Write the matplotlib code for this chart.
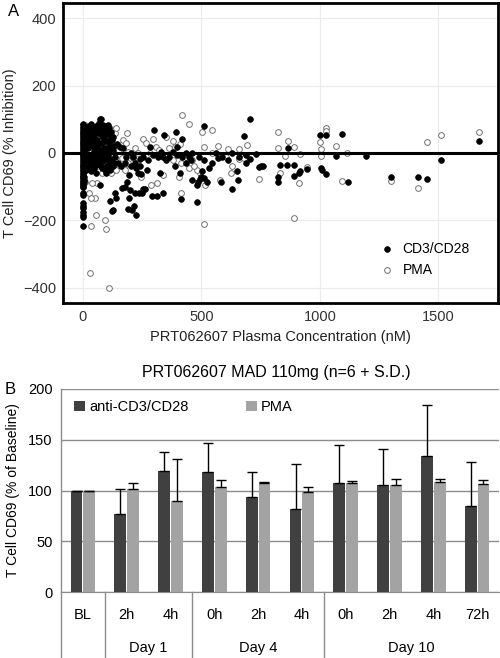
import matplotlib
matplotlib.use("Agg")
from matplotlib import pyplot as plt
import numpy as np

plt.rcParams['font.family'] = ['Liberation Sans', 'DejaVu Sans']

# ---------------- panel A data ----------------
# CD3/CD28 stimulated (filled)
cd3_x = [0]*32 + [6]*12 + [3]*6 + [0]*9 + [
    15, 20, 25, 30, 35, 40, 45, 50, 55, 60, 65, 70, 72, 80, 85, 90, 95, 100, 105, 110, 115, 120, 124, 130,
    15, 20, 25, 30, 40, 45, 50, 55, 60, 65, 75, 80, 90, 100, 110, 120, 128,
    15, 20, 25, 30, 35, 40, 45, 50, 55, 60, 65, 67, 75, 80, 85, 93, 96, 100, 105, 110, 115, 120, 125, 130,
    10, 12, 18, 22, 28, 33, 38, 48, 52, 58, 62, 68, 78, 88, 98, 108, 118,
    10, 14, 24, 34, 44, 54, 64, 74, 84, 94, 104,
    72, 97, 134, 113, 122, 128, 141, 76, 104, 66, 107, 128, 145,
    166, 177, 184, 198, 195, 190, 193, 207, 215, 226, 219, 235, 248, 255, 263, 241, 226, 231, 243, 271,
    290, 311, 301, 336, 283, 325, 343, 339, 391, 395, 388, 409, 420, 412, 420, 435, 458, 462, 480, 484,
    494, 498, 480, 509, 502, 512, 522, 533, 571, 582, 613, 627, 651, 653, 681, 688,
    155, 169, 183, 204, 211, 134, 148, 162, 176, 204, 218, 239, 253, 274, 295, 316, 330, 351, 365, 379,
    399, 434, 448, 462, 490, 511, 546, 560, 588, 630, 658, 689,
    705, 705, 730, 744, 751, 758, 824, 824, 831, 859, 866, 891, 891, 913, 915, 947, 1000, 1004, 1007,
    1025, 1025, 1067, 1095, 1119, 1193, 1300, 1412, 1450, 1509, 1670]
cd3_y = [85, 78, 72, 66, 60, 54, 48, 42, 36, 30, 24, 18, 12, 6, 0, -6, -12, -18, -24, -30,
         -36, -42, -48, -54, -60, -66, -72, -78, -84, -90, -96, -100] + \
        [80, 65, 50, 35, 20, 5, -10, -25, -40, -55, -70, -85] + \
        [70, 40, 10, -20, -50, -80] + \
        [-118, -125, -150, -158, -165, -175, -185, -190, -218] + [
    75, 60, 80, 70, 85, 55, 70, 65, 80, 40, 75, 100, 60, 50, 84, 70, 35, 80, 60, 74, 45, 55, 40, 20,
    30, 15, 40, 25, 20, 5, 30, 10, 15, 25, 10, 30, 15, 5, 20, 10, 5,
    -10, -25, -40, -15, -30, -8, -45, -20, -35, -10, -30, -12, -20, -45, -25, -51, -60, -15, -35, -25, -50, -20, -40, -30,
    50, 25, 65, 45, 55, 35, 62, 48, 72, 28, 58, 88, 66, 42, 57, 30, 62,
    -20, -50, -5, -55, -15, -60, -5, -35, -10, -42, -8,
    -95, -50, -119, -144, -173, -168, -134, 100, 83, 83, 60, 48, 27,
    -104, -100, -85, -109, -65, -166, -134, -170, -159, -183, -119, -119, -119, -107, -107, -38, -45, -60, -63, -50,
    -129, -129, 68, -119, 19, -60, 53, -11, 63, 19, -40, -60, -11, -136, 41, -1, -21, -80, -95, -87,
    -77, -70, -147, 80, -55, -75, -85, -45, -16, -85, -21, -107, -55, -80, 50, -31,
    19, 14, -11, -1, -11, -11, -31, -40, -31, -40, -31, -19, -11, -21, -6, -11, 4, -21, -11, 4,
    -6, -31, -11, -1, -11, -21, -31, -1, -11, -1, -11, -6,
    100, -19, -3, -42, -40, -38, -70, -85, -37, -35, 14, -37, -68, -58, -53, -48, 53, -45, -50,
    55, -62, -9, 56, -85, -8, -70, -70, -77, -21, 35]

# PMA stimulated (open)
pma_x = [0]*8 + [
    10, 25, 40, 55, 60, 75, 85, 100, 110, 120, 135, 141, 186,
    20, 35, 50, 65, 80, 95, 105, 115, 125, 140, 150, 160, 170, 180,
    20, 35, 45, 60, 70, 90, 100, 115, 135, 150, 165, 175, 190,
    58, 27, 53, 55, 95, 96, 36, 32, 111, 130, 120, 80, 8, 40, 33,
    253, 267, 295, 309, 351, 381, 388, 411, 419, 447, 501, 544, 571, 613, 658, 658,
    624, 578, 517, 494, 480, 448, 469, 412, 406, 337, 313, 288, 243, 225, 211, 176, 138, 511,
    190, 218, 232, 281, 323, 365, 379, 413, 434, 462, 511, 546, 602, 630, 679, 693,
    824, 822, 866, 891, 852, 915, 831, 744, 913, 890, 945, 1000, 1004, 1004, 1025, 1025,
    1067, 1116, 1095, 1300, 1412, 1450, 1509, 1670]
pma_y = [82, 60, 30, -5, -40, -70, -90, -100] + [
    82, 70, 78, 60, 45, 50, 65, 45, 35, 70, 60, 73, 60,
    40, 25, 10, 35, 20, 15, 10, 25, 0, 15, 5, 25, 40, 30,
    -15, -5, -25, -40, -20, -30, -10, -15, -20, -35, -15, -45, -30,
    -90, -119, -134, -183, -198, -226, -218, -356, -400, -50, -60, -60, -86, -90, -135,
    43, 29, 43, 19, 48, 35, 19, 26, 112, 86, 63, 68, 22, 12, 11, -19,
    -60, -80, -95, -60, -50, -45, -40, -119, -70, -65, -90, -95, -70, -31, -16, -50, -52, -210,
    4, 14, -1, -1, 9, 14, -21, -31, -11, -21, 19, -1, -11, -40, -16, 24,
    61, 16, 35, 19, -9, -4, -58, -77, -89, -193, -43, 33, 12, -9, 73, 66,
    21, -1, -83, -83, -104, 33, 55, 61]

# ---------------- panel B data ----------------
time_labels = ["BL", "2h", "4h", "0h", "2h", "4h", "0h", "2h", "4h", "72h"]
day_labels = ["Day 1", "Day 4", "Day 10"]
day_spans = [(1, 2), (3, 5), (6, 9)]
anti_cd3 = [100, 77, 119, 118, 94, 82, 107, 105, 134, 85]
anti_cd3_sd = [0, 24, 19, 29, 24, 44, 38, 36, 50, 43]
pma_bar = [100, 101, 90, 103, 107, 99, 107, 105, 108, 106]
pma_bar_sd = [0, 6, 41, 7, 1, 4, 2, 6, 3, 4]

W, H = 500, 658
fig = plt.figure(figsize=(W/100, H/100), dpi=100)

# ================= panel A =================
axA = fig.add_axes([63/W, 1-303/H, (498-63)/W, 300/H])
axA.scatter(pma_x, pma_y, s=17, facecolors='white', edgecolors='#707070', linewidths=0.7,
            label='PMA', zorder=3)
axA.scatter(cd3_x, cd3_y, s=17, c='black', edgecolors='black', linewidths=0.5,
            label='CD3/CD28', zorder=3)
axA.axhline(0, color='black', lw=2.2, zorder=4)
axA.set_xlim(-84, 1751)
axA.set_ylim(-446, 446)
axA.set_xticks([0, 500, 1000, 1500])
axA.set_yticks([-400, -200, 0, 200, 400])
axA.grid(True, color='#ebebeb', lw=0.8)
axA.set_axisbelow(True)
axA.tick_params(length=0, labelsize=10.5, colors='#333333', pad=5)
for sp in axA.spines.values():
    sp.set_linewidth(2)
    sp.set_color('black')
axA.set_xlabel("PRT062607 Plasma Concentration (nM)", fontsize=10.5, color='#222222', labelpad=4)
axA.set_ylabel("T Cell CD69 (% Inhibition)", fontsize=10.5, color='#222222', labelpad=4)
h, l = axA.get_legend_handles_labels()
axA.legend(h[::-1], l[::-1], loc='center left', bbox_to_anchor=(0.685, 0.145), frameon=False,
           fontsize=10, handletextpad=0.1, labelspacing=0.5)
fig.text(8/W, 1-12/H, "A", fontsize=12, va='center', ha='left')

# ================= panel B =================
axB = fig.add_axes([61/W, 1-592/H, (499-61)/W, (592-389)/H])
x = np.arange(len(time_labels))
bw = 0.27
axB.bar(x - bw/2 - 0.01, anti_cd3, bw, color='#404040', label='anti-CD3/CD28', zorder=3,
        yerr=[np.zeros(len(x)), anti_cd3_sd],
        error_kw=dict(ecolor='black', elinewidth=1, capsize=3.5, capthick=1))
axB.bar(x + bw/2 + 0.01, pma_bar, bw, color='#a3a3a3', label='PMA', zorder=3,
        yerr=[np.zeros(len(x)), pma_bar_sd],
        error_kw=dict(ecolor='black', elinewidth=1, capsize=3.5, capthick=1))
axB.set_xlim(-0.5, len(x) - 0.5)
axB.set_ylim(0, 200)
axB.set_yticks([0, 50, 100, 150, 200])
axB.yaxis.grid(True, color='#8c8c8c', lw=1)
axB.set_axisbelow(True)
axB.set_xticks([])
axB.tick_params(axis='y', length=0, labelsize=10.5, pad=6)
for s in ['top', 'right']:
    axB.spines[s].set_visible(False)
axB.spines['bottom'].set_color('#8c8c8c')
axB.spines['left'].set_color('#8c8c8c')
axB.spines['left'].set_linewidth(1)
axB.set_ylabel("T Cell CD69 (% of Baseline)", fontsize=10, labelpad=6)
axB.legend(loc='upper left', bbox_to_anchor=(0.0, 1.01), ncol=2, frameon=False, fontsize=10.5,
           handlelength=0.75, handleheight=0.75, handletextpad=0.3, columnspacing=3.9)

# category table under the bars
trans = axB.get_xaxis_transform()
depth = -66/203
for b in [-0.5, 0.5, 2.5, 5.5]:
    axB.plot([b, b], [0, depth], transform=trans, color='#8c8c8c', lw=1, clip_on=False)
for i, lab in enumerate(time_labels):
    axB.text(i, -23/203, lab, transform=trans, ha='center', va='center', fontsize=10.5)
for lab, (a, b) in zip(day_labels, day_spans):
    axB.text((a + b)/2, -56/203, lab, transform=trans, ha='center', va='center', fontsize=10.5)

fig.text(276/W, 1-373/H, "PRT062607 MAD 110mg (n=6 + S.D.)", fontsize=11.5, ha='center', va='center')
fig.text(5/W, 1-390/H, "B", fontsize=12, va='center', ha='left')

fig.savefig("out.png", dpi=100)
